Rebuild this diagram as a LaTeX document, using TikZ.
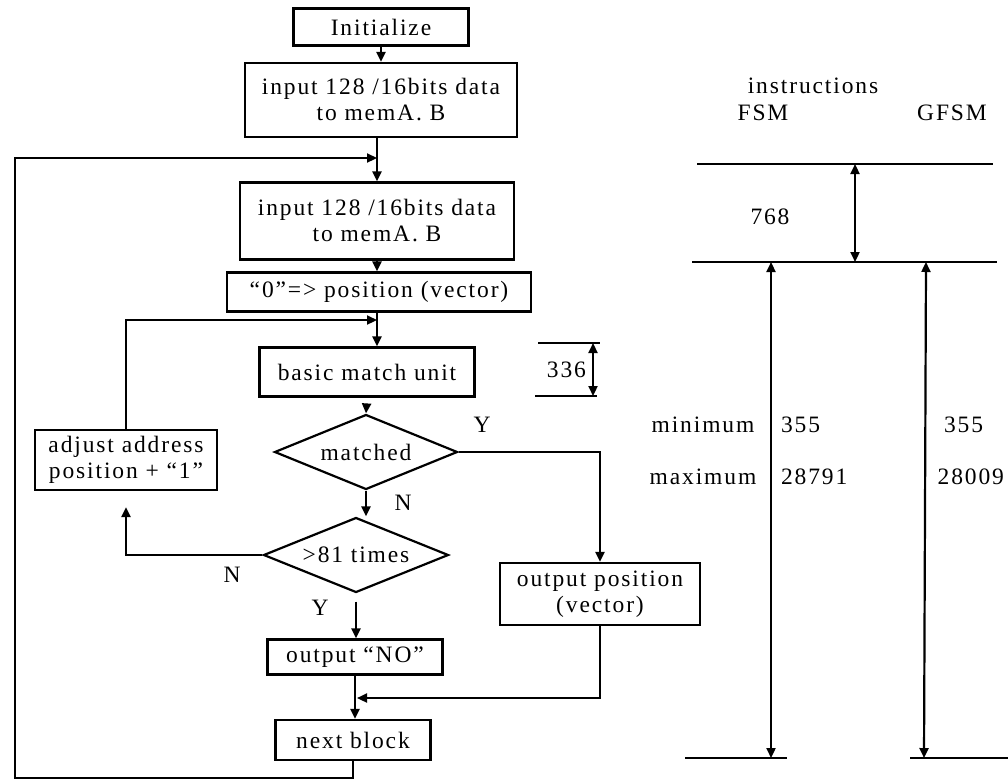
\documentclass[tikz,border=0pt]{standalone}
\usepackage{fontspec}
\setmainfont{Liberation Serif}[LetterSpace=8]
\usetikzlibrary{shapes.geometric,arrows.meta}
\begin{document}
\begin{tikzpicture}[x=1pt,y=-1pt,
  line width=2.2pt,
  every node/.style={font=\fontsize{23.5}{26}\selectfont},
  box/.style={draw,rectangle,inner sep=0pt,align=center},
  dec/.style={draw,diamond,inner sep=0pt,aspect=2.44},
  lbl/.style={inner sep=0pt},
  arr/.style={-{Triangle[length=10pt,width=9pt]}},
  darr/.style={{Triangle[length=10pt,width=9pt]}-{Triangle[length=10pt,width=9pt]}},
  rule/.style={line width=2.2pt}]
\useasboundingbox (0,0) rectangle (1008,782);
% flowchart
\node[box,minimum width=175,minimum height=37] (init) at (381,27) {Initialize};
\node[box,minimum width=272,minimum height=74] (in1) at (381,100) {input 128 /16bits data\\ to memA. B};
\node[box,minimum width=274,minimum height=77] (in2) at (377,221) {input 128 /16bits data\\ to memA. B};
\node[box,minimum width=304,minimum height=39] (zero) at (379,292) {“0”=> position (vector)};
\node[box,minimum width=215,minimum height=49] (bmu) at (367,372) {basic match unit};
\node[dec,minimum width=183,minimum height=75] (d1) at (366,452) {matched};
\node[dec,minimum width=185,minimum height=75] (d2) at (356,555) {>81 times};
\node[box,minimum width=182,minimum height=60] (adj) at (126,460) {adjust address\\ position + “1”};
\node[box,minimum width=200,minimum height=62] (outp) at (600,594) {output position\\ (vector)};
\node[box,minimum width=175,minimum height=35] (no) at (355,657) {output “NO”};
\node[box,minimum width=155,minimum height=40] (next) at (353,740) {next block};
% junctions
\coordinate (j1) at (377,158);
\coordinate (j2) at (377,320);
\coordinate (j3) at (357,698);
\coordinate (j4) at (15,778);
% labels
\node[lbl] (y1) at (482,425) {Y};
\node[lbl] (n1) at (403,503) {N};
\node[lbl] (n2) at (232,575) {N};
\node[lbl] (y2) at (320,608) {Y};
% connectors
\draw[arr] (init.south) -- (in1.north);
\draw (j1 |- in1.south) -- (j1);
\draw[arr] (j1) -- (j1 |- in2.north);
\draw[arr] (next.south) |- (j4) -- (15,158) -- (j1);
\draw[arr] (j2 |- in2.south) -- (j2 |- zero.north);
\draw (j2 |- zero.south) -- (j2);
\draw[arr] (j2) -- (j2 |- bmu.north);
\draw[arr] (adj.north) |- (j2);
\draw[arr,shorten <=8pt] (bmu.south) -- (d1.north);
\draw[arr] (d1.east) -| (outp.north);
\draw[arr] (d1.south) -- (d1.south |- d2.north);
\draw[arr,shorten >=16pt] (d2.west) -| (adj.south);
\draw[arr,shorten <=8pt] (d2.south) -- (d2.south |- no.north);
\draw[arr] (no.south) -- (no.south |- next.north);
\draw[arr] (outp.south) |- (j3);
% right side
\node[lbl] (instr) at (813,86) {instructions};
\node[lbl] (fsm) at (763,113) {FSM};
\node[lbl] (gfsm) at (952,113) {GFSM};
\coordinate (t1) at (697,164); \coordinate (t2) at (993,164);
\coordinate (m1) at (692,262); \coordinate (m2) at (997,262);
\coordinate (b1) at (685,758); \coordinate (b2) at (787,758);
\coordinate (c1) at (910,758); \coordinate (c2) at (1008,758);
\draw[rule] (t1) -- (t2);
\draw[rule] (m1) -- (m2);
\draw[rule] (b1) -- (b2);
\draw[rule] (c1) -- (c2);
\coordinate (a768t) at (855,164); \coordinate (a768b) at (855,262);
\draw[darr] (a768t) -- (a768b);
\node[lbl] (v768) at (770,217) {768};
\coordinate (fa) at (771,262); \coordinate (fb) at (771,758);
\draw[darr] (fa) -- (fb);
\coordinate (ga) at (926,262); \coordinate (gb) at (924,758);
\draw[darr] (ga) -- (gb);
\node[lbl] (minl) at (703,425) {minimum};
\node[lbl] (maxl) at (703,477) {maximum};
\node[lbl,anchor=west] (fmin) at (780,425) {355};
\node[lbl,anchor=west] (fmax) at (780,477) {28791};
\node[lbl,anchor=west] (gmin) at (943,425) {355};
\node[lbl,anchor=east] (gmax) at (1005,477) {28009};
% 336
\coordinate (s1) at (538,343); \coordinate (s2) at (600,343);
\coordinate (s3) at (535,396); \coordinate (s4) at (597,396);
\draw[rule] (s1) -- (s2);
\draw[rule] (s3) -- (s4);
\coordinate (sa) at (593,343); \coordinate (sb) at (593,396);
\draw[darr] (sa) -- (sb);
\node[lbl,anchor=east] (v336) at (587,370) {336};
\end{tikzpicture}
\end{document}
